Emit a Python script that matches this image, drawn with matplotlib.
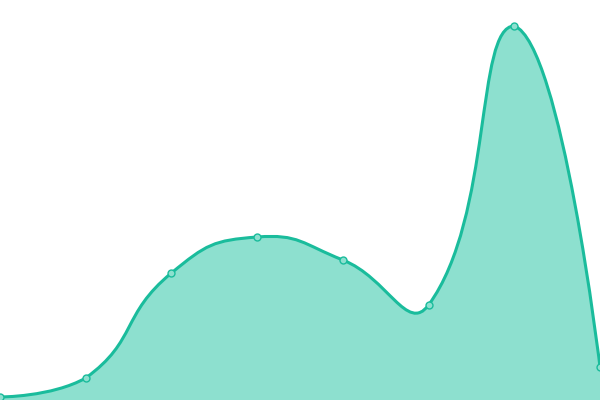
import numpy as np
import matplotlib
matplotlib.use("Agg")
import matplotlib.pyplot as plt
from matplotlib.path import Path
from matplotlib.patches import PathPatch

categories = ["A", "B", "C", "D", "E", "F", "G", "H"]
values = [3, 22, 127, 163, 140, 95, 374, 33]

LINE = "#1abc9c"
FILL = "#8de0cf"

fig = plt.figure(figsize=(6, 4), dpi=100)
ax = fig.add_axes([0, 0, 1, 1])
n = len(categories)
ax.set_xlim(0, n - 1)
ax.set_ylim(0, 400)
ax.axis("off")

x = np.arange(n, dtype=float)
y = np.array(values, dtype=float)
pts = ax.transData.transform(np.column_stack([x, y]))
lo = pts.min(axis=0)
hi = pts.max(axis=0)
smooth = 0.5

verts = [pts[0]]
codes = [Path.MOVETO]
cp0 = pts[0].copy()
for i in range(1, n):
    p = pts[i]
    if i == n - 1:
        cp1 = p.copy()
        v = np.zeros(2)
        r = 0.5
    else:
        v = pts[i + 1] - pts[i - 1]
        d0 = np.linalg.norm(p - pts[i - 1])
        d1 = np.linalg.norm(pts[i + 1] - p)
        r = d1 / (d0 + d1)
        cp1 = p - v * smooth * (1 - r)
    cp0 = np.clip(cp0, lo, hi)
    cp1 = np.clip(cp1, lo, hi)
    verts += [cp0, cp1, p]
    codes += [Path.CURVE4] * 3
    cp0 = p + v * smooth * r

inv = ax.transData.inverted()
dverts = inv.transform(np.array(verts))
line_path = Path(dverts, codes)
fill_verts = np.vstack([dverts, [[x[-1], 0], [x[0], 0], dverts[0]]])
fill_codes = codes + [Path.LINETO, Path.LINETO, Path.CLOSEPOLY]
ax.add_patch(PathPatch(Path(fill_verts, fill_codes), facecolor=FILL, edgecolor="none"))
ax.add_patch(PathPatch(line_path, facecolor="none", edgecolor=LINE, lw=2.2))
ax.plot(x, y, "o", ms=5, mfc=FILL, mec=LINE, mew=1, clip_on=True)

fig.savefig("out.png", dpi=100)
